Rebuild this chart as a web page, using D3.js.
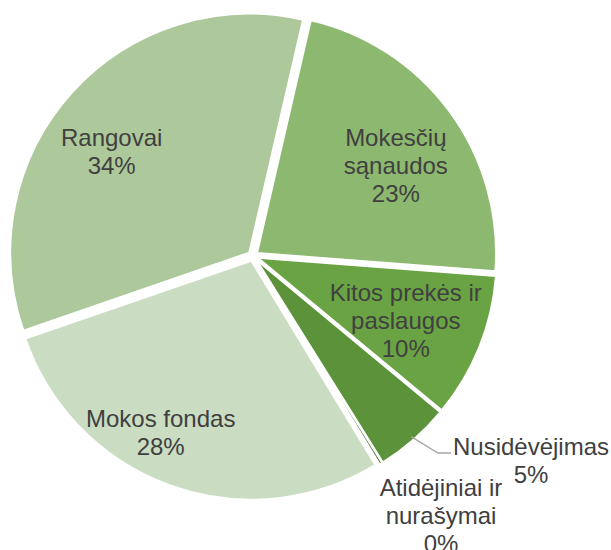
<!DOCTYPE html>
<html>
<head>
<meta charset="utf-8">
<script src="https://cdn.jsdelivr.net/npm/d3@7"></script>
<style>
  body { margin: 0; background: #fff; }
  svg text { font-family: "Liberation Sans", Arial, sans-serif; font-size: 24px; fill: #404040; }
</style>
</head>
<body>
<div id="chart"></div>
<script>
// data (percent of total)
var categories = ["Mokesčių sąnaudos", "Kitos prekės ir paslaugos", "Nusidėvėjimas",
                  "Atidėjiniai ir nurašymai", "Mokos fondas", "Rangovai"];
var values = [22.6, 9.8, 5.1, 0.2, 28.4, 33.9];
var labelLines = [["Mokesčių", "sąnaudos"], ["Kitos prekės ir", "paslaugos"], ["Nusidėvėjimas"],
                  ["Atidėjiniai ir", "nurašymai"], ["Mokos fondas"], ["Rangovai"]];
var colors = ["#8cb86f", "#6aa343", "#5c923a", "#4a7a2c", "#cadcc1", "#adc99b"];

var width = 611, height = 550;
var cx = 253, cy = 256, radius = 239, explode = 5;
var startDeg = 13;

var svg = d3.select("#chart").append("svg")
    .attr("width", width)
    .attr("height", height);

var g = svg.append("g")
    .attr("transform", "translate(" + cx + "," + cy + ")");

var total = d3.sum(values);
var pct = d3.format(".0%");

var pie = d3.pie()
    .sort(null)
    .value(function(d) { return d; })
    .startAngle(startDeg * Math.PI / 180)
    .endAngle(startDeg * Math.PI / 180 + 2 * Math.PI);

var arcs = pie(values);

var arc = d3.arc().innerRadius(0).outerRadius(radius);

function offset(d, r) {
  var a = (d.startAngle + d.endAngle) / 2;
  return [Math.sin(a) * r, -Math.cos(a) * r];
}

// slices, each pulled out a little along its bisector
g.selectAll("path.slice")
  .data(arcs)
  .enter()
  .append("path")
    .attr("class", "slice")
    .attr("d", arc)
    .attr("transform", function(d) {
      var o = offset(d, explode);
      return "translate(" + o[0] + "," + o[1] + ")";
    })
    .attr("fill", function(d, i) { return colors[i]; })
    .attr("stroke", "#fff")
    .attr("stroke-width", 2)
    .attr("stroke-linejoin", "round");

// label placement: distance from centre and angle nudge (degrees) per slice,
// outside labels get an explicit anchor relative to the centre
var labelPlace = [
  {r: 169, da: 4},
  {r: 166, da: 1},
  {at: [278, 205], leader: true},
  {at: [188, 260]},
  {r: 199, da: 7.8},
  {r: 176, da: -5.4}
];

var lineH = 28;

arcs.forEach(function(d, i) {
  var p = labelPlace[i], x, y;
  if (p.at) {
    x = p.at[0]; y = p.at[1];
  } else {
    var a = (d.startAngle + d.endAngle) / 2 + p.da * Math.PI / 180;
    x = Math.sin(a) * p.r; y = -Math.cos(a) * p.r;
  }
  var lines = labelLines[i].concat([pct(values[i] / total)]);
  var top = y - (lines.length - 1) * lineH / 2;
  var t = g.append("text")
      .attr("text-anchor", "middle");
  lines.forEach(function(s, k) {
    t.append("tspan")
      .attr("x", x)
      .attr("y", top + k * lineH)
      .attr("dy", "0.35em")
      .text(s);
  });

  if (p.leader) {
    // short leader from the slice edge to the label
    var e = offset(d, radius + explode - 4);
    var lx = x - 80, ly = top + 6;
    g.append("polyline")
      .attr("points", [[e[0], e[1]], [lx - 13, ly], [lx, ly]].map(function(q) { return q.join(","); }).join(" "))
      .attr("fill", "none")
      .attr("stroke", "#a6a6a6")
      .attr("stroke-width", 1.3);
  }
});
</script>
</body>
</html>
